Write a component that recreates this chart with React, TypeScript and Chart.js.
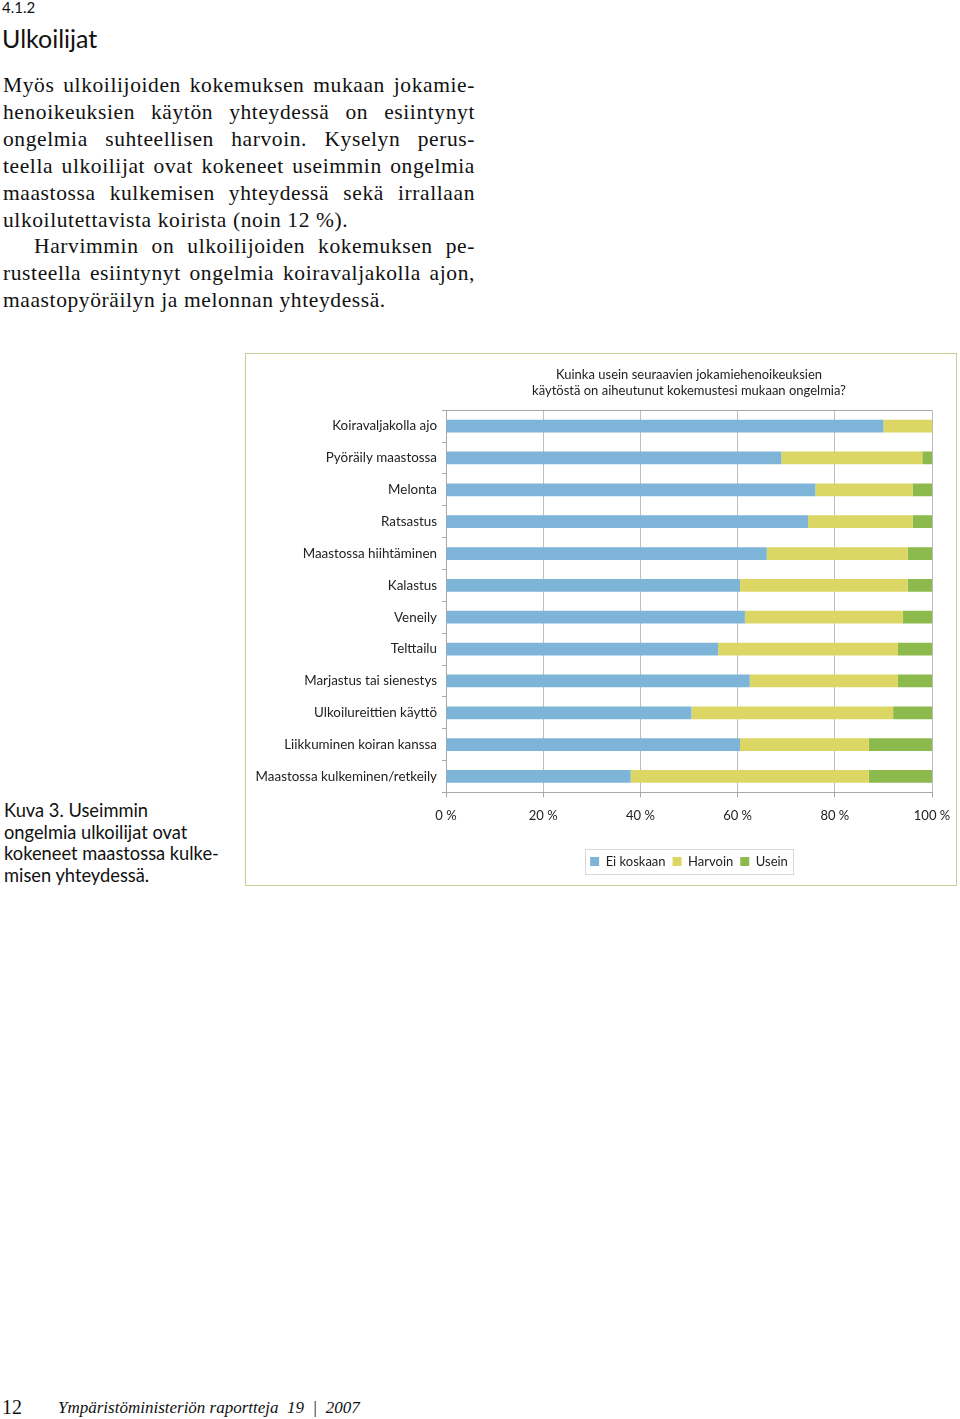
import React, { useEffect, useRef } from "react";
import { Chart, registerables } from "chart.js";

Chart.register(...registerables);

const categories = [
  "Koiravaljakolla ajo",
  "Pyöräily maastossa",
  "Melonta",
  "Ratsastus",
  "Maastossa hiihtäminen",
  "Kalastus",
  "Veneily",
  "Telttailu",
  "Marjastus tai sienestys",
  "Ulkoilureittien käyttö",
  "Liikkuminen koiran kanssa",
  "Maastossa kulkeminen/retkeily",
];
const eiKoskaan = [90, 69, 76, 74.5, 66, 60.5, 61.5, 56, 62.5, 50.5, 60.5, 38];
const harvoin = [10, 29, 20, 21.5, 29, 34.5, 32.5, 37, 30.5, 41.5, 26.5, 49];
const usein = [0, 2, 4, 4, 5, 5, 6, 7, 7, 8, 13, 13];
const seriesNames = ["Ei koskaan", "Harvoin", "Usein"];
const xTicks = [0, 20, 40, 60, 80, 100];
const chartTitle = [
  "Kuinka usein seuraavien jokamiehenoikeuksien",
  "käytöstä on aiheutunut kokemustesi mukaan ongelmia?",
];

const SANS = "Lato, 'Open Sans', sans-serif";
const SERIF = "'Liberation Serif', 'DejaVu Serif', serif";

const paragraphLines: { text: string; justify: boolean; indent?: boolean }[] = [
  { text: "Myös ulkoilijoiden kokemuksen mukaan jokamie-", justify: true },
  { text: "henoikeuksien käytön yhteydessä on esiintynyt", justify: true },
  { text: "ongelmia suhteellisen harvoin. Kyselyn perus-", justify: true },
  { text: "teella ulkoilijat ovat kokeneet useimmin ongelmia", justify: true },
  { text: "maastossa kulkemisen yhteydessä sekä irrallaan", justify: true },
  { text: "ulkoilutettavista koirista (noin 12 %).", justify: false },
  { text: "Harvimmin on ulkoilijoiden kokemuksen pe-", justify: true, indent: true },
  { text: "rusteella esiintynyt ongelmia koiravaljakolla ajon,", justify: true },
  { text: "maastopyöräilyn ja melonnan yhteydessä.", justify: false },
];

const captionLines = [
  "Kuva 3. Useimmin",
  "ongelmia ulkoilijat ovat",
  "kokeneet maastossa kulke-",
  "misen yhteydessä.",
];

const framePlugin = {
  id: "frameAndLegendBox",
  afterDraw(chart: any) {
    const { ctx, chartArea } = chart;
    ctx.save();
    ctx.strokeStyle = "#a8a8a8";
    ctx.lineWidth = 1;
    ctx.beginPath();
    ctx.moveTo(chartArea.left, Math.round(chartArea.top) + 0.5);
    ctx.lineTo(chartArea.right, Math.round(chartArea.top) + 0.5);
    ctx.stroke();
    const boxes = chart.legend && chart.legend.legendHitBoxes;
    if (boxes && boxes.length) {
      let l = Infinity, r = -Infinity, t = Infinity, b = -Infinity;
      boxes.forEach((h: any) => {
        l = Math.min(l, h.left);
        r = Math.max(r, h.left + h.width);
        t = Math.min(t, h.top);
        b = Math.max(b, h.top + h.height);
      });
      ctx.strokeStyle = "#d8d8d8";
      ctx.strokeRect(Math.round(l - 5) + 0.5, Math.round(t - 6) + 0.5, Math.round(r - l + 10), Math.round(b - t + 12));
    }
    ctx.restore();
  },
};

function BarChart() {
  const ref = useRef<HTMLCanvasElement | null>(null);
  useEffect(() => {
    if (!ref.current) return;
    const chart = new Chart(ref.current, {
      type: "bar",
      data: {
        labels: categories,
        datasets: [
          { label: seriesNames[0], data: eiKoskaan, backgroundColor: "#7db4d8" },
          { label: seriesNames[1], data: harvoin, backgroundColor: "#dcd764" },
          { label: seriesNames[2], data: usein, backgroundColor: "#8cba4c" },
        ],
      },
      options: {
        indexAxis: "y",
        animation: false,
        responsive: false,
        maintainAspectRatio: false,
        datasets: { bar: { categoryPercentage: 0.8, barPercentage: 0.5 } },
        layout: { padding: { left: 8, right: 23, top: 0, bottom: 6 } },
        scales: {
          x: {
            stacked: true,
            min: 0,
            max: 100,
            afterBuildTicks: (scale: any) => {
              scale.ticks = xTicks.map((v) => ({ value: v }));
            },
            ticks: {
              callback: (v: any) => v + " %",
              color: "#222",
              font: { family: SANS, size: 13 },
              padding: 11,
              maxRotation: 0,
            },
            grid: { color: "#bdbdbd", tickLength: 5, tickColor: "#a8a8a8" },
            border: { color: "#a8a8a8" },
            afterFit: (scale: any) => {
              scale.height += 13;
              scale.paddingRight = 0;
              scale.paddingLeft = 0;
            },
          },
          y: {
            stacked: true,
            ticks: {
              color: "#222",
              font: { family: SANS, size: 13.4 },
              padding: 5,
              autoSkip: false,
            },
            grid: { drawOnChartArea: false, tickLength: 4, color: "#a8a8a8", offset: true },
            border: { color: "#a8a8a8" },
            afterFit: (scale: any) => {
              scale.width = 192;
            },
          },
        },
        plugins: {
          title: {
            display: true,
            text: chartTitle,
            fullSize: false,
            color: "#222",
            font: { family: SANS, size: 13, weight: "normal" },
            padding: { top: 13, bottom: 12 },
          },
          legend: {
            position: "bottom",
            fullSize: false,
            labels: {
              boxWidth: 9,
              boxHeight: 9,
              padding: 7,
              color: "#222",
              font: { family: SANS, size: 13 },
            },
          },
          tooltip: { enabled: false },
        },
      },
      plugins: [framePlugin],
    } as any);
    return () => chart.destroy();
  }, []);
  return <canvas ref={ref} width={709} height={530} style={{ display: "block", width: 709, height: 530 }} />;
}

export default function App() {
  return (
    <div style={{ position: "absolute", left: 0, top: 0, width: 960, height: 1419, background: "#fff", color: "#111", overflow: "hidden" }}>
      <div style={{ position: "absolute", left: 2, top: -2, fontFamily: SANS, fontSize: 15, lineHeight: "18px" }}>4.1.2</div>
      <div style={{ position: "absolute", left: 2, top: 23, fontFamily: SANS, fontSize: 25, lineHeight: "30px" }}>Ulkoilijat</div>
      <div style={{ position: "absolute", left: 3, top: 72, width: 472, fontFamily: SERIF, fontSize: 21.5, letterSpacing: 0.6, lineHeight: "26.9px" }}>
        {paragraphLines.map((l, i) => (
          <div
            key={i}
            style={{
              whiteSpace: "nowrap",
              textAlign: l.justify ? "justify" : "left",
              textAlignLast: l.justify ? "justify" : "left",
              paddingLeft: l.indent ? 31 : 0,
            }}
          >
            {l.text}
          </div>
        ))}
      </div>
      <div style={{ position: "absolute", left: 4, top: 800, fontFamily: SANS, fontSize: 18.3, lineHeight: "21.7px" }}>
        {captionLines.map((c, i) => (
          <div key={i}>{c}</div>
        ))}
      </div>
      <div style={{ position: "absolute", left: 245, top: 353, width: 712, height: 533, boxSizing: "border-box", border: "1px solid #c8cd96" }}>
        <BarChart />
      </div>
      <div style={{ position: "absolute", left: 2, top: 1394, fontFamily: SERIF, fontSize: 20, lineHeight: "26px" }}>12</div>
      <div style={{ position: "absolute", left: 58, top: 1395, fontFamily: SERIF, fontSize: 17, fontStyle: "italic", lineHeight: "26px" }}>
        Ympäristöministeriön raportteja&nbsp; 19&nbsp; |&nbsp; 2007
      </div>
    </div>
  );
}
